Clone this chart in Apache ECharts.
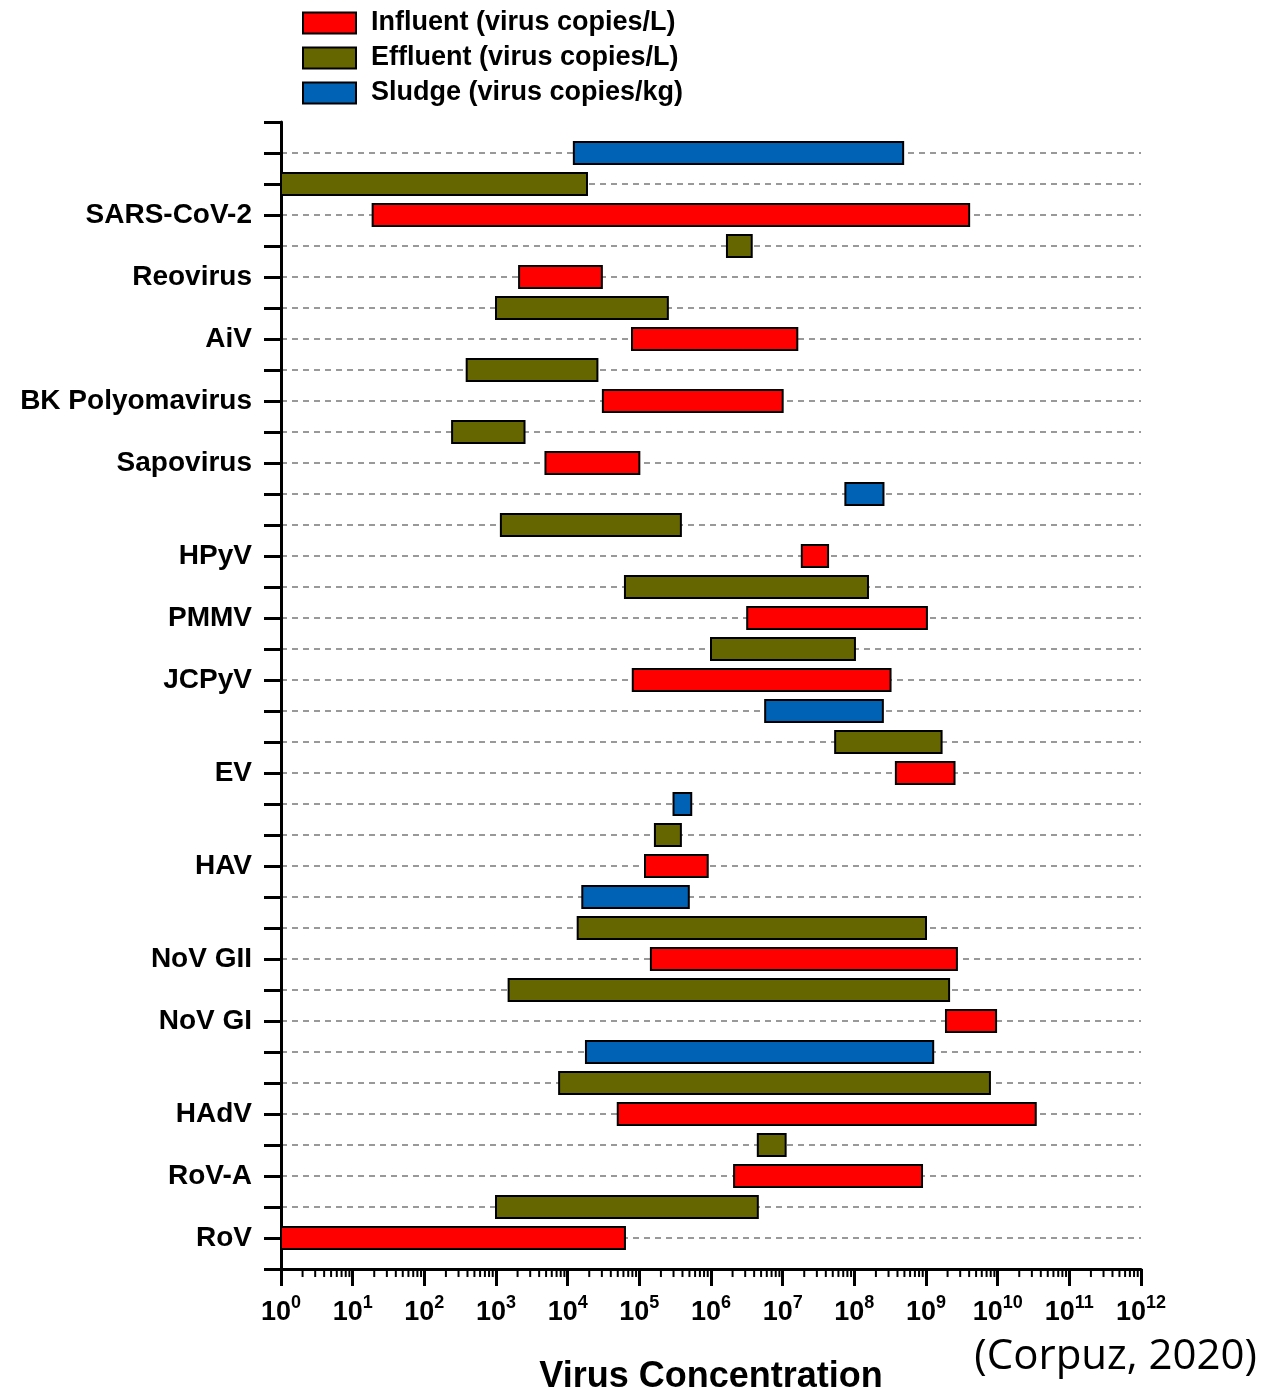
<!DOCTYPE html>
<html>
<head>
<meta charset="utf-8">
<title>Virus concentrations in wastewater</title>
<script src="https://cdn.jsdelivr.net/npm/echarts@6/dist/echarts.min.js"></script>
<style>
  html, body { margin: 0; padding: 0; background: #ffffff; }
  #chart { width: 1279px; height: 1389px; }
</style>
</head>
<body>
<div id="chart"></div>
<script>
// Viruses listed from the bottom of the chart to the top
const viruses = ['RoV', 'RoV-A', 'HAdV', 'NoV GI', 'NoV GII', 'HAV', 'EV', 'JCPyV', 'PMMV', 'HPyV',
  'Sapovirus', 'BK Polyomavirus', 'AiV', 'Reovirus', 'SARS-CoV-2'];

// Concentration ranges (low / high), aligned with `viruses`; null = not reported
const influentLow  = [1, 2.1e6, 5e4, 1.9e9, 1.45e5, 1.2e5, 3.8e8, 8.1e4, 3.2e6, 1.85e7, 4.9e3, 3.1e4, 7.9e4, 2.1e3, 19];
const influentHigh = [6.3e4, 8.8e8, 3.4e10, 9.5e9, 2.7e9, 9e5, 2.5e9, 3.2e8, 1.03e9, 4.3e7, 1e5, 1e7, 1.6e7, 3.0e4, 4e9];
const effluentLow  = [1e3, 4.5e6, 7.6e3, 1.5e3, 1.38e4, 1.65e5, 5.4e7, 1e6, 6.3e4, 1.17e3, 244, 390, 1e3, 1.67e6, 1];
const effluentHigh = [4.5e6, 1.1e7, 7.8e9, 2.1e9, 1e9, 3.8e5, 1.65e9, 1.02e8, 1.55e8, 3.8e5, 2.5e3, 2.6e4, 2.5e5, 3.7e6, 1.86e4];
const sludgeLow    = [null, null, 1.8e4, null, 1.6e4, 3.0e5, 5.7e6, null, null, 7.5e7, null, null, null, null, 1.22e4];
const sludgeHigh   = [null, null, 1.26e9, null, 4.9e5, 5.3e5, 2.5e8, null, null, 2.55e8, null, null, null, null, 4.8e8];

// Axis extent (powers of ten)
const xMinExp = 0;
const xMaxExp = 12;

const seriesNames = ['Influent (virus copies/L)', 'Effluent (virus copies/L)', 'Sludge (virus copies/kg)'];
const seriesColors = ['#ff0000', '#666600', '#0062b4'];

// Lay out one row per measurement: influent, effluent, then sludge for each virus
const rowLabels = [''];
const barData = [[], [], []];
viruses.forEach((name, i) => {
  const ranges = [
    [influentLow[i], influentHigh[i]],
    [effluentLow[i], effluentHigh[i]],
    [sludgeLow[i], sludgeHigh[i]]
  ];
  ranges.forEach((r, k) => {
    if (r[0] == null) return;
    const row = rowLabels.length;
    rowLabels.push(k === 0 ? name : '');
    barData[k].push([r[0], r[1], row]);
  });
});
rowLabels.push('');
const lastRow = rowLabels.length - 1;

// Minor tick positions (2..9 within each decade)
const minorTicks = [];
for (let e = xMinExp; e < xMaxExp; e++) {
  for (let m = 2; m <= 9; m++) minorTicks.push([m * Math.pow(10, e)]);
}

function renderBar(params, api) {
  const row = api.value(2);
  const start = api.coord([api.value(0), row]);
  const end = api.coord([api.value(1), row]);
  const h = 22;
  return {
    type: 'rect',
    shape: { x: start[0], y: start[1] - h / 2, width: end[0] - start[0], height: h },
    style: { fill: api.visual('color'), stroke: '#000', lineWidth: 2 }
  };
}

function renderMinorTick(params, api) {
  const p = api.coord([api.value(0), 0]);
  return {
    type: 'line',
    shape: { x1: p[0], y1: p[1], x2: p[0], y2: p[1] + 8 },
    style: { stroke: '#000', lineWidth: 2 }
  };
}

const chart = echarts.init(document.getElementById('chart'));
const FONT = '"Liberation Sans", Arial, sans-serif';

chart.setOption({
  animation: false,
  backgroundColor: '#ffffff',
  grid: { left: 281, right: 138, top: 122, bottom: 120, containLabel: false, outerBoundsMode: 'none' },
  legend: {
    data: seriesNames,
    orient: 'vertical',
    left: 302,
    top: 8,
    padding: 0,
    itemWidth: 53,
    itemHeight: 21,
    itemGap: 5,
    icon: 'rect',
    itemStyle: { borderColor: '#000', borderWidth: 2 },
    textStyle: { fontFamily: FONT, fontWeight: 'bold', fontSize: 27, lineHeight: 30, color: '#000', padding: [0, 0, 0, 10] }
  },
  xAxis: {
    type: 'log',
    logBase: 10,
    min: Math.pow(10, xMinExp),
    max: Math.pow(10, xMaxExp),
    interval: 1,
    name: 'Virus Concentration',
    nameLocation: 'middle',
    nameGap: 90,
    nameTextStyle: { fontFamily: FONT, fontWeight: 'bold', fontSize: 36, color: '#000' },
    axisLine: { show: true, lineStyle: { color: '#000', width: 3 } },
    axisTick: { show: true, inside: false, length: 17, lineStyle: { color: '#000', width: 3 } },
    splitLine: { show: false },
    axisLabel: {
      margin: 25,
      hideOverlap: false,
      formatter: v => '{b|10}{s|' + Math.round(Math.log10(v)) + '}',
      rich: {
        b: { fontFamily: FONT, fontWeight: 'bold', fontSize: 27, lineHeight: 32, verticalAlign: 'bottom', color: '#000' },
        s: { fontFamily: FONT, fontWeight: 'bold', fontSize: 18, lineHeight: 20, verticalAlign: 'top', color: '#000' }
      }
    }
  },
  yAxis: {
    type: 'category',
    data: rowLabels,
    boundaryGap: false,
    axisLine: { show: true, lineStyle: { color: '#000', width: 3 } },
    axisTick: { show: true, inside: false, length: 17, interval: 0, lineStyle: { color: '#000', width: 3 } },
    axisLabel: {
      interval: 0,
      margin: 29,
      fontFamily: FONT,
      fontWeight: 'bold',
      fontSize: 28,
      color: '#000'
    },
    splitLine: {
      show: true,
      interval: (idx) => idx > 0 && idx < lastRow,
      lineStyle: { color: '#999999', width: 2, type: [6, 5] }
    }
  },
  series: [
    ...seriesNames.map((name, k) => ({
      name,
      type: 'custom',
      renderItem: renderBar,
      clip: false,
      itemStyle: { color: seriesColors[k], borderColor: '#000', borderWidth: 2 },
      encode: { x: [0, 1], y: 2 },
      data: barData[k],
      z: 3
    })),
    {
      name: 'minor ticks',
      type: 'custom',
      renderItem: renderMinorTick,
      clip: false,
      silent: true,
      encode: { x: 0 },
      data: minorTicks,
      z: 4
    }
  ],
  graphic: [
    {
      type: 'text',
      right: 22,
      top: 1336,
      style: { text: '(Corpuz, 2020)', font: '42px "Open Sans", sans-serif', fill: '#000' }
    }
  ]
});
</script>
</body>
</html>
